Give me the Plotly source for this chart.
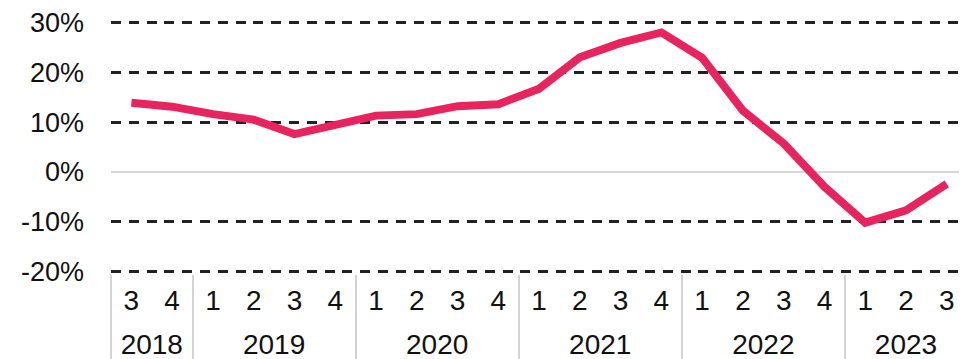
import plotly.graph_objects as go

# Quarterly year-on-year growth, 2018 Q3 to 2023 Q3
quarters = ["3", "4",
            "1", "2", "3", "4",
            "1", "2", "3", "4",
            "1", "2", "3", "4",
            "1", "2", "3", "4",
            "1", "2", "3"]
growth = [13.9, 13.1,
          11.6, 10.5, 7.6, 9.3,
          11.3, 11.6, 13.2, 13.6,
          16.7, 23.0, 25.9, 28.0,
          22.9, 12.3, 5.7, -3.0,
          -10.2, -7.7, -2.4]

# Year groups: label and number of quarters in each
year_labels = ["2018", "2019", "2020", "2021", "2022", "2023"]
year_counts = [2, 4, 4, 4, 4, 3]

y_ticks = [-20, -10, 0, 10, 20, 30]
y_tick_labels = ["-20%", "-10%", "0%", "10%", "20%", "30%"]

FONT = "Liberation Sans, Arial, sans-serif"
TEXT = "#111111"

x_index = list(range(len(quarters)))

# group centres and group boundaries in quarter-index units
year_centres, year_edges = [], [-0.5]
start = 0
for n in year_counts:
    year_centres.append(start + (n - 1) / 2)
    start += n
    year_edges.append(start - 0.5)
year_edges = year_edges[:-1]

x_range = [-0.5, len(quarters) - 0.7]

fig = go.Figure()
fig.add_trace(go.Scatter(
    x=x_index,
    y=growth,
    mode="lines",
    line=dict(color="#E8245E", width=8),
    hoverinfo="skip",
))
# empty traces so the year-row and divider axes are laid out
for axis_id, xs in (("x2", year_centres), ("x3", year_edges)):
    fig.add_trace(go.Scatter(
        x=xs,
        y=[None] * len(xs),
        xaxis=axis_id,
        yaxis="y",
        mode="lines",
        hoverinfo="skip",
        showlegend=False,
    ))

fig.update_layout(
    width=973,
    height=359,
    margin=dict(l=111, r=14, t=19.5, b=84.5),
    paper_bgcolor="white",
    plot_bgcolor="white",
    showlegend=False,
    font=dict(family=FONT, color=TEXT),
    xaxis=dict(
        range=x_range,
        tickvals=x_index,
        ticktext=quarters,
        showgrid=False,
        showline=False,
        zeroline=False,
        ticks="",
        automargin=False,
        ticklabelstandoff=7,
        tickfont=dict(size=28, family=FONT, color=TEXT),
    ),
    # year row beneath the quarters
    xaxis2=dict(
        overlaying="x",
        side="bottom",
        anchor="y",
        range=x_range,
        tickvals=year_centres,
        ticktext=year_labels,
        showgrid=False,
        showline=False,
        zeroline=False,
        ticks="",
        automargin=False,
        ticklabelstandoff=51,
        tickfont=dict(size=28, family=FONT, color=TEXT),
    ),
    # light dividers between the year groups
    xaxis3=dict(
        overlaying="x",
        side="bottom",
        anchor="y",
        range=x_range,
        tickvals=year_edges,
        showticklabels=False,
        showgrid=False,
        showline=False,
        zeroline=False,
        automargin=False,
        ticks="outside",
        ticklen=86,
        tickwidth=2,
        tickcolor="#d4d4d4",
    ),
    yaxis=dict(
        range=[-20.5, 30.5],
        tickvals=y_ticks,
        ticktext=y_tick_labels,
        showgrid=True,
        gridcolor="#222222",
        gridwidth=2.8,
        griddash="10px,7.8px",
        zeroline=True,
        zerolinecolor="#d6d6d6",
        zerolinewidth=2,
        showline=False,
        ticks="",
        automargin=False,
        ticklabelstandoff=26,
        tickfont=dict(size=27, family=FONT, color=TEXT),
    ),
)

fig.write_html("out.html")
